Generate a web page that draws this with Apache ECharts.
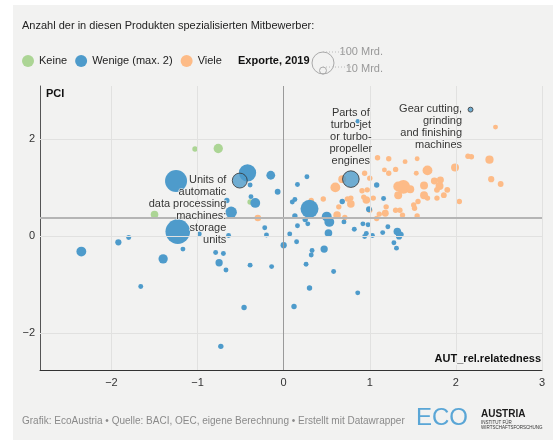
<!DOCTYPE html>
<html>
<head>
<meta charset="utf-8">
<script src="https://cdn.jsdelivr.net/npm/echarts@6/dist/echarts.min.js"></script>
<style>
html,body{margin:0;padding:0;background:#fff;}
#chart{width:553px;height:441px;}
</style>
</head>
<body>
<div id="chart"></div>
<script>
// ---- data (x = AUT_rel.relatedness, y = PCI, v = exports 2019 in Mrd.) ----
const keine = [
  [-1.03, 1.79, 6], [-0.76, 1.80, 18], [-1.50, 0.44, 12], [-0.39, 0.70, 6]
];
const wenige = [
  [-1.25, 1.13, 100], [-0.42, 1.30, 62], [-0.39, 1.05, 5], [-0.15, 1.25, 16],
  [-0.07, 0.91, 7], [-0.38, 0.81, 5], [-0.33, 0.68, 20], [-0.61, 0.49, 27],
  [-0.66, 0.73, 6], [-1.23, 0.09, 125], [-0.22, 0.17, 5], [-0.20, 0.02, 5],
  [0.00, -0.19, 8], [0.07, 0.04, 5], [-0.64, 0.01, 5], [-0.98, 0.04, 5],
  [-1.80, -0.03, 5], [-1.92, -0.13, 8], [-2.35, -0.32, 20], [-1.17, -0.27, 5],
  [-0.79, -0.34, 5], [-0.70, -0.36, 5], [-1.40, -0.47, 18], [-0.75, -0.55, 11],
  [-0.67, -0.70, 5], [-0.39, -0.60, 5], [-0.14, -0.63, 5], [-1.66, -1.04, 5],
  [-0.46, -1.47, 6], [-0.73, -2.27, 6], [0.86, 2.36, 4], [0.27, 1.22, 5],
  [0.16, 1.06, 5], [1.08, 1.05, 6], [1.16, 0.77, 5], [0.99, 0.55, 7],
  [0.68, 0.71, 6], [0.30, 0.56, 67], [0.13, 0.75, 5], [0.10, 0.70, 5],
  [0.13, 0.41, 6], [0.25, 0.34, 6], [0.28, 0.25, 5], [0.16, 0.21, 5],
  [0.50, 0.40, 20], [0.53, 0.29, 20], [0.52, 0.06, 12], [0.70, 0.29, 5],
  [0.82, 0.14, 5], [0.92, 0.25, 5], [0.98, 0.23, 5], [0.96, 0.05, 5],
  [0.94, -0.01, 5], [1.03, 0.01, 5], [1.21, 0.19, 5], [1.15, 0.07, 5],
  [1.32, 0.09, 12], [1.34, 0.04, 8], [1.36, 0.03, 7], [1.34, -0.01, 8],
  [1.28, -0.14, 5], [1.31, -0.25, 5], [0.15, -0.12, 5], [0.33, -0.30, 5],
  [0.32, -0.39, 5], [0.47, -0.27, 11], [0.26, -0.58, 5], [0.58, -0.73, 5],
  [0.30, -1.07, 6], [0.86, -1.17, 5], [0.12, -1.45, 6]
];
const viele = [
  [2.46, 2.24, 5], [1.09, 1.61, 6], [1.22, 1.59, 6], [1.41, 1.53, 5],
  [1.55, 1.59, 5], [2.14, 1.64, 6], [2.18, 1.63, 6], [2.39, 1.57, 14],
  [1.99, 1.41, 13], [1.67, 1.35, 20], [1.17, 1.36, 5], [1.30, 1.37, 6],
  [1.22, 1.29, 6], [0.94, 1.29, 6], [1.54, 1.29, 5], [2.41, 1.17, 8],
  [2.52, 1.07, 7], [1.00, 1.19, 6], [0.68, 1.17, 13], [0.60, 1.00, 20],
  [1.39, 1.01, 38], [1.33, 1.02, 20], [1.47, 0.96, 13], [1.33, 0.84, 13],
  [1.63, 1.04, 13], [1.75, 1.13, 10], [1.82, 1.15, 10], [1.81, 1.03, 13],
  [1.78, 0.95, 7], [1.90, 0.95, 7], [1.86, 0.84, 7], [1.78, 0.78, 6],
  [1.63, 0.84, 13], [1.67, 0.78, 6], [1.56, 0.71, 6], [1.51, 0.64, 6],
  [1.52, 0.57, 6], [1.55, 0.41, 6], [2.04, 0.71, 6], [1.35, 0.53, 6],
  [1.30, 0.53, 6], [1.38, 0.43, 6], [1.18, 0.47, 10], [1.19, 0.60, 6],
  [1.11, 0.45, 6], [1.08, 0.36, 6], [1.00, 0.53, 6], [0.96, 0.74, 12],
  [1.04, 0.78, 6], [0.91, 0.93, 6], [0.97, 0.95, 6], [0.93, 0.80, 6],
  [0.78, 0.78, 6], [0.74, 0.76, 6], [0.78, 0.66, 12], [0.64, 0.60, 6],
  [0.62, 0.43, 12], [0.71, 0.38, 6], [0.46, 0.76, 6], [0.32, 0.73, 6],
  [-0.30, 0.37, 9]
];
const highlighted = [[-0.51, 1.14, 46], [0.78, 1.17, 57], [2.17, 2.60, 5]];
const highlightLabels = [
  "Units of\nautomatic\ndata processing\nmachines:\nstorage\nunits",
  "Parts of\nturbo-jet\nor turbo-\npropeller\nengines",
  "Gear cutting,\ngrinding\nand finishing\nmachines"
];
const seriesNames = ["Keine", "Wenige (max. 2)", "Viele"];
const xTicks = [-2, -1, 0, 1, 2, 3];
const yTicks = [-2, 0, 2];
const xRange = [-2.83, 3];
const yRange = [-2.757, 3.086];
const refX = 0;
const refY = 0.37;
const sizeLegend = [100, 10];
const sizeLegendLabels = ["100 Mrd.", "10 Mrd."];
const titleText = "Anzahl der in diesen Produkten spezialisierten Mitbewerber:";
const sizeTitle = "Exporte, 2019";
const footerText = "Grafik: EcoAustria \u2022 Quelle: BACI, OEC, eigene Berechnung \u2022 Erstellt mit Datawrapper";

// ---- styling / build ----
const C_GREEN = '#acd595', C_BLUE = '#4e9bcb', C_ORANGE = '#fdbb87';
const BG = '#f2f2f1';
const FONT = '"Liberation Sans", Arial, Helvetica, sans-serif';
const K = 1.1; // radius per sqrt(Mrd.)
const sizeFn = v => 2 * K * Math.sqrt(v[2]);
const minus = v => String(v).replace('-', '\u2212');

const labelBase = {
  show: true, color: '#000', fontSize: 11, lineHeight: 12, fontFamily: FONT,
  textBorderColor: BG, textBorderWidth: 1.5
};
const labelPlacement = [
  (r) => ({ position: [-5.5, r - 6], align: 'right', verticalAlign: 'top' }),
  (r) => ({ position: 'top', distance: 3, align: 'center' }),
  (r) => ({ position: [-5.5, r - 6], align: 'right', verticalAlign: 'top' })
];
const highlightData = highlighted.map((p, i) => {
  const r = K * Math.sqrt(p[2]);
  return {
    value: p,
    label: Object.assign({}, labelBase, { formatter: highlightLabels[i] }, labelPlacement[i](r))
  };
});

const gridLineStyle = { color: '#e1e1e0', width: 1, type: 'solid' };
const gridMarks = []
  .concat(xTicks.filter(t => t !== refX).map(t => ({ xAxis: t, lineStyle: gridLineStyle })))
  .concat(yTicks.map(t => ({ yAxis: t, lineStyle: gridLineStyle })));
const refMarks = [
  { xAxis: refX, lineStyle: { color: '#9a9a9a', width: 1, type: 'solid' } },
  { yAxis: refY, lineStyle: { color: '#b5b5b5', width: 2, type: 'solid' } }
];

const pointSeries = (name, data, color, z) => ({
  name, type: 'scatter', data, symbolSize: sizeFn, z,
  itemStyle: { color, opacity: 1 },
  emphasis: { disabled: true }
});

const bigR = K * Math.sqrt(sizeLegend[0]);
const smallR = K * Math.sqrt(sizeLegend[1]);
const cx = 323, cBottom = 74;

const option = {
  animation: false,
  backgroundColor: '#ffffff',
  textStyle: { fontFamily: FONT },
  grid: { left: 40, right: 11, top: 86, bottom: 71, containLabel: false },
  legend: {
    data: seriesNames,
    left: 22, top: 55,
    icon: 'circle', itemWidth: 12, itemHeight: 12, itemGap: 8,
    padding: 0,
    textStyle: { fontSize: 11, color: '#222', fontFamily: FONT },
    selectedMode: false
  },
  xAxis: {
    type: 'value', min: xRange[0], max: xRange[1],
    axisLine: { show: true, onZero: false, lineStyle: { color: '#333', width: 1 } },
    axisTick: { show: false, customValues: xTicks },
    axisLabel: { customValues: xTicks, formatter: minus, color: '#333', fontSize: 11, margin: 7, fontFamily: FONT },
    splitLine: { show: false }
  },
  yAxis: {
    type: 'value', min: yRange[0], max: yRange[1],
    axisLine: { show: true, onZero: false, lineStyle: { color: '#555', width: 1 } },
    axisTick: { show: false, customValues: yTicks },
    axisLabel: { customValues: yTicks, formatter: minus, color: '#333', fontSize: 11, margin: 5, fontFamily: FONT },
    splitLine: { show: false }
  },
  series: [
    {
      type: 'scatter', data: [], z: 1, silent: true,
      markLine: { silent: true, symbol: ['none', 'none'], label: { show: false }, data: gridMarks, animation: false }
    },
    {
      type: 'scatter', data: [], z: 1.5, silent: true,
      markLine: { silent: true, symbol: ['none', 'none'], label: { show: false }, data: refMarks, animation: false }
    },
    pointSeries(seriesNames[2], viele, C_ORANGE, 2),
    pointSeries(seriesNames[0], keine, C_GREEN, 3),
    pointSeries(seriesNames[1], wenige, C_BLUE, 4),
    {
      type: 'scatter', data: highlightData, symbolSize: sizeFn, z: 6,
      itemStyle: { color: C_BLUE, borderColor: '#333', borderWidth: 1 },
      emphasis: { disabled: true }
    }
  ],
  graphic: [
    { type: 'rect', z: -100, silent: true, shape: { x: 13, y: 5, width: 540, height: 435 }, style: { fill: BG } },
    { type: 'text', z: 10, left: 22, top: 20, style: { text: titleText, fontSize: 11, fill: '#222', font: '11px ' + FONT } },
    { type: 'text', z: 10, left: 238, top: 55, style: { text: sizeTitle, fill: '#111', font: 'bold 11px ' + FONT } },
    { type: 'circle', z: 10, shape: { cx: cx, cy: cBottom - bigR, r: bigR }, style: { fill: 'none', stroke: '#aaa', lineWidth: 1 } },
    { type: 'circle', z: 10, shape: { cx: cx, cy: cBottom - smallR, r: smallR }, style: { fill: 'none', stroke: '#aaa', lineWidth: 1 } },
    { type: 'line', z: 10, shape: { x1: cx, y1: cBottom - 2 * bigR, x2: 348, y2: cBottom - 2 * bigR }, style: { stroke: '#bbb', lineWidth: 1, lineDash: [1, 2] } },
    { type: 'line', z: 10, shape: { x1: cx, y1: cBottom - 2 * smallR, x2: 352, y2: cBottom - 2 * smallR }, style: { stroke: '#bbb', lineWidth: 1, lineDash: [1, 2] } },
    { type: 'text', z: 10, right: 553 - 383, top: 46, style: { text: sizeLegendLabels[0], fill: '#999', font: '11px ' + FONT, align: 'right' } },
    { type: 'text', z: 10, right: 553 - 383, top: 63, style: { text: sizeLegendLabels[1], fill: '#999', font: '11px ' + FONT, align: 'right' } },
    { type: 'text', z: 10, left: 46, top: 88, style: { text: 'PCI', fill: '#111', font: 'bold 11px ' + FONT } },
    { type: 'text', z: 10, right: 11, top: 352, style: { text: 'AUT_rel.relatedness', fill: '#111', font: 'bold 11px ' + FONT, textBorderColor: BG, textBorderWidth: 2 } },
    { type: 'text', z: 10, left: 22, top: 416, style: { text: footerText, fill: '#8a8a8a', font: '10px ' + FONT } },
    { type: 'text', z: 10, left: 416, top: 406, style: { text: 'ECO', fill: '#5aa6d6', font: '300 24px ' + FONT } },
    { type: 'text', z: 10, left: 481, top: 409, style: { text: 'AUSTRIA', fill: '#1a1a1a', font: 'bold 10px ' + FONT, letterSpacing: 1.8 } },
    { type: 'text', z: 10, left: 481, top: 420, style: { text: 'INSTITUT F\u00dcR', fill: '#333', font: '4.5px ' + FONT } },
    { type: 'text', z: 10, left: 481, top: 425, style: { text: 'WIRTSCHAFTSFORSCHUNG', fill: '#333', font: '4.5px ' + FONT } }
  ]
};

const chart = echarts.init(document.getElementById('chart'), null, { renderer: 'canvas' });
chart.setOption(option);
</script>
</body>
</html>
